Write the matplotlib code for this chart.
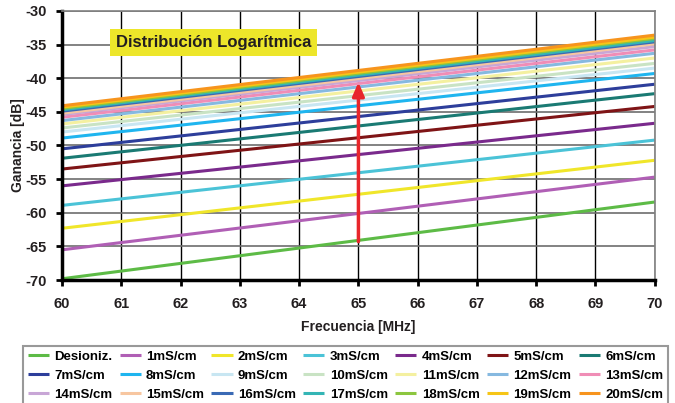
import numpy as np
import matplotlib.pyplot as plt

# Données
frecuencia = [60, 70]  # MHz
series = ['Desioniz.', '1mS/cm', '2mS/cm', '3mS/cm', '4mS/cm', '5mS/cm', '6mS/cm',
          '7mS/cm', '8mS/cm', '9mS/cm', '10mS/cm', '11mS/cm', '12mS/cm', '13mS/cm',
          '14mS/cm', '15mS/cm', '16mS/cm', '17mS/cm', '18mS/cm', '19mS/cm', '20mS/cm']
ganancia_60 = [-69.8, -65.5, -62.3, -58.9, -56.0, -53.5, -51.9, -50.5, -48.9, -48.0,
               -47.4, -46.8, -46.3, -45.8, -45.4, -45.2, -44.9, -44.7, -44.5, -44.3, -44.1]
ganancia_70 = [-58.4, -54.7, -52.2, -49.2, -46.7, -44.2, -42.3, -40.9, -39.3, -38.5,
               -37.8, -37.0, -36.3, -35.8, -35.3, -34.9, -34.6, -34.4, -34.1, -33.9, -33.6]
colores = ['#5dbb46', '#b05fb5', '#f0e62a', '#4bc3d7', '#7a2a8c', '#7f1416', '#1a7a73',
           '#2d3e9b', '#1fb5ef', '#c8e6f2', '#c9e3c4', '#f4f0a0', '#86b9e0', '#f08db6',
           '#c8a6d6', '#f7c6a0', '#3a6ab5', '#34b5b5', '#8cc63f', '#f6c516', '#f7941d']
flecha_x = 65
flecha_y = [-64.7, -40.2]

plt.close('all')
plt.rcParams['font.family'] = ['Liberation Sans', 'DejaVu Sans']
plt.rcParams['axes.unicode_minus'] = False
fig = plt.figure(figsize=(6.75, 4.03), dpi=100)
ax = fig.add_axes([0.092, 0.305, 0.878, 0.668])

lignes = []
for nom, y0, y1, c in zip(series, ganancia_60, ganancia_70, colores):
    l, = ax.plot(frecuencia, [y0, y1], color=c, lw=2.2, label=nom, solid_capstyle='butt')
    lignes.append(l)

ax.annotate('', xy=(flecha_x, flecha_y[1]), xytext=(flecha_x, flecha_y[0]),
            arrowprops=dict(arrowstyle='-|>,head_length=0.8,head_width=0.35',
                            color='#e8262b', lw=2.5))

ax.text(62.55, -34.7, 'Distribución Logarítmica', fontsize=12, fontweight='bold',
        color='#231f20', ha='center', va='center',
        bbox=dict(boxstyle='square,pad=0.35', fc='#ede62a', ec='none'))

ax.set_xlim(60, 70)
ax.set_ylim(-70, -30)
ax.set_xticks(np.arange(60, 71, 1))
ax.set_yticks(np.arange(-70, -29, 5))
ax.xaxis.grid(True, color='black', lw=1)
ax.yaxis.grid(True, color='#6d6d6d', lw=1.2)
ax.set_axisbelow(True)
for s in ['top', 'right']:
    ax.spines[s].set_color('#808080')
    ax.spines[s].set_linewidth(1.2)
for s in ['left', 'bottom']:
    ax.spines[s].set_color('black')
    ax.spines[s].set_linewidth(2.5)
ax.tick_params(direction='out', length=4, width=2, labelsize=10.5)
ax.tick_params(axis='x', pad=8)
ax.tick_params(axis='y', pad=7)
for lab in ax.get_xticklabels() + ax.get_yticklabels():
    lab.set_fontweight('bold')
    lab.set_color('#231f20')
ax.set_xlabel('Frecuencia [MHz]', fontsize=10, fontweight='bold', color='#231f20', labelpad=7)
ax.set_ylabel('Ganancia [dB]', fontsize=10, fontweight='bold', color='#231f20')
ax.yaxis.set_label_coords(-0.062, 0.5)

# légende remplie ligne par ligne (7 colonnes)
ordre = [r * 7 + c for c in range(7) for r in range(3)]
leg = fig.legend([lignes[i] for i in ordre], [series[i] for i in ordre],
                 loc='upper left', bbox_to_anchor=(23 / 675, 0, 645 / 675, 1 - 346 / 403),
                 mode='expand', ncol=7, frameon=True, fancybox=False, handlelength=1.6,
                 handletextpad=0.4, columnspacing=0.6, labelspacing=0.5,
                 borderpad=0.35, borderaxespad=0, prop={'weight': 'bold', 'size': 9.5})
leg.get_frame().set_edgecolor('#808080')
leg.get_frame().set_linewidth(1.5)

plt.savefig('out.png', dpi=100)
